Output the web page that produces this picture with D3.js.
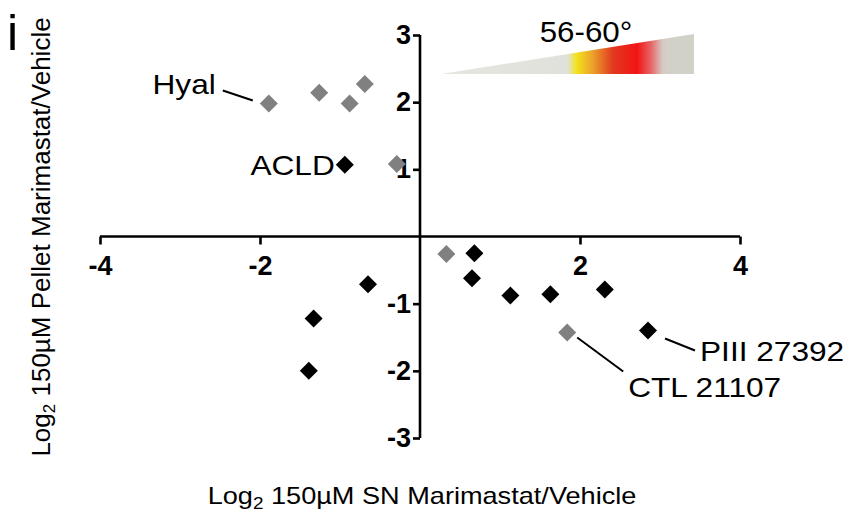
<!DOCTYPE html>
<html>
<head>
<meta charset="utf-8">
<script src="https://cdn.jsdelivr.net/npm/d3@7"></script>
<style>
  body { margin: 0; background: #fff; }
  text { font-family: "Liberation Sans", Arial, sans-serif; }
</style>
</head>
<body>
<div id="chart"></div>
<script>
// data
const grayX = [-1.89, -1.26, -0.88, -0.69, -0.29, 0.33, 1.84];
const grayY = [1.98, 2.14, 1.98, 2.27, 1.08, -0.26, -1.43];
const blackX = [-0.94, 0.68, 0.65, 1.13, 1.63, 2.31, 2.85, -0.65, -1.33, -1.39];
const blackY = [1.07, -0.25, -0.62, -0.88, -0.86, -0.79, -1.40, -0.71, -1.22, -2.00];
const xTicks = [-4, -2, 2, 4];
const yTicks = [-3, -2, -1, 1, 2, 3];
const labelNames = ["Hyal", "ACLD", "PIII 27392", "CTL 21107"];
const labelX = [-1.89, -0.94, 2.85, 1.84];
const labelY = [1.98, 1.07, -1.40, -1.43];

function chart() {
  const width = 866;
  const height = 512;

  const svg = d3.select("#chart")
    .append("svg")
    .attr("width", width)
    .attr("height", height);

  const x = d3.scaleLinear().domain([-4, 4]).range([100, 740]);
  const y = d3.scaleLinear().domain([-3, 3]).range([438, 35]);

  // 温度のグラデーション (56-60°)
  const grad = svg.append("defs").append("linearGradient")
    .attr("id", "temp")
    .attr("x1", "0%").attr("x2", "100%");
  [[0, "#e6e6e1"], [0.5, "#e1e1db"], [0.535, "#f2e41c"], [0.6, "#eba02a"],
   [0.68, "#e2381f"], [0.775, "#f21414"], [0.83, "#e86565"], [0.875, "#d6c8c2"],
   [0.9, "#d1d1c7"], [1, "#d1d1c7"]].forEach(s => {
    grad.append("stop").attr("offset", s[0]).attr("stop-color", s[1]);
  });
  svg.append("path")
    .attr("d", "M441,74 L694,34 L694,74 Z")
    .attr("fill", "url(#temp)");
  svg.append("text")
    .attr("transform", "translate(586,42) scale(1.08,1)")
    .attr("text-anchor", "middle")
    .style("font-size", "29px")
    .text("56-60°");

  const fmt = d => String(d); // ハイフンのマイナス

  // X軸
  const gx = svg.append("g")
    .attr("transform", `translate(0,${y(0)})`)
    .call(d3.axisBottom(x).tickValues(xTicks).tickSize(8).tickSizeOuter(0).tickPadding(11)
      .tickFormat(fmt));

  // Y軸
  const gy = svg.append("g")
    .attr("transform", `translate(${x(0)},0)`)
    .call(d3.axisLeft(y).tickValues(yTicks).tickSize(7).tickSizeOuter(0).tickPadding(2)
      .tickFormat(fmt));

  [gx, gy].forEach(g => {
    g.selectAll("path, line").attr("stroke", "#000").attr("stroke-width", 2.6);
    g.selectAll("text")
      .attr("fill", "#000")
      .style("font-family", "'Liberation Sans', Arial, sans-serif")
      .style("font-size", "27px")
      .style("font-weight", "bold");
  });
  gx.select(".domain").attr("d", `M${x(-4)},0H${x(4)}`);
  gy.select(".domain").attr("d", `M0,${y(3)}V${y(-3)}`);

  // 点
  const diamond = d3.symbol().type(d3.symbolSquare).size(162);
  svg.selectAll(".gray")
    .data(grayX.map((v, i) => [v, grayY[i]]))
    .enter().append("path")
    .attr("class", "gray")
    .attr("d", diamond)
    .attr("fill", "#808080")
    .attr("transform", d => `translate(${x(d[0])},${y(d[1])}) rotate(45)`);
  svg.selectAll(".black")
    .data(blackX.map((v, i) => [v, blackY[i]]))
    .enter().append("path")
    .attr("class", "black")
    .attr("d", diamond)
    .attr("fill", "#000")
    .attr("transform", d => `translate(${x(d[0])},${y(d[1])}) rotate(45)`);

  // ラベル (点からのオフセット)
  const labelText = [[-53, -10, "end"], [-10, 10, "end"], [52, 30, "start"], [61, 64, "start"]];
  const leader = [[-46, -13, -16, -3], null, [17, 8, 47, 20], [10, 5, 56, 39]];
  labelNames.forEach((name, i) => {
    const px = x(labelX[i]);
    const py = y(labelY[i]);
    if (leader[i]) {
      svg.append("line")
        .attr("x1", px + leader[i][0]).attr("y1", py + leader[i][1])
        .attr("x2", px + leader[i][2]).attr("y2", py + leader[i][3])
        .attr("stroke", "#000")
        .attr("stroke-width", 2);
    }
    svg.append("text")
      .attr("transform", `translate(${px + labelText[i][0]},${py + labelText[i][1]}) scale(1.13,1)`)
      .attr("text-anchor", labelText[i][2])
      .style("font-size", "28px")
      .text(name);
  });

  // 軸タイトル
  const xt = svg.append("text")
    .attr("transform", "translate(422,504) scale(1.18,1)")
    .attr("text-anchor", "middle")
    .style("font-size", "23px");
  xt.append("tspan").text("Log");
  xt.append("tspan").attr("dy", 5).style("font-size", "16px").text("2");
  xt.append("tspan").attr("dy", -5).text(" 150µM SN Marimastat/Vehicle");

  const yt = svg.append("text")
    .attr("transform", "translate(50,237) rotate(-90)")
    .attr("text-anchor", "middle")
    .style("font-size", "26px");
  yt.append("tspan").text("Log");
  yt.append("tspan").attr("dy", 5).style("font-size", "17px").text("2");
  yt.append("tspan").attr("dy", -5).text(" 150µM Pellet Marimastat/Vehicle");

  // パネル記号
  svg.append("text")
    .attr("x", 7)
    .attr("y", 50)
    .style("font-size", "50px")
    .text("i");
}

chart();
</script>
</body>
</html>
